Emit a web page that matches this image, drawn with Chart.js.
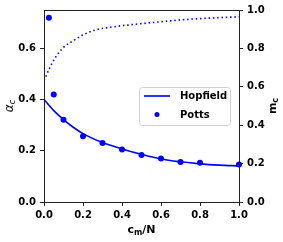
<!DOCTYPE html>
<html>
<head>
<meta charset="utf-8">
<script src="https://cdn.jsdelivr.net/npm/chart.js@4"></script>
<style>
  html, body { margin: 0; padding: 0; background: #fff; }
  #wrap { width: 283px; height: 242px; }
</style>
</head>
<body>
<div id="wrap"><canvas id="chart" width="283" height="242"></canvas></div>
<script>
// Hopfield curve (alpha_c vs c_m/N)
const hopfieldX = [0, 0.05, 0.1, 0.15, 0.2, 0.3, 0.4, 0.5, 0.6, 0.7, 0.8, 0.9, 1.0];
const hopfieldY = [0.40, 0.357, 0.322, 0.292, 0.267, 0.232, 0.207, 0.186, 0.168, 0.157, 0.149, 0.144, 0.141];

// Potts points (alpha_c)
const pottsX = [0.025, 0.05, 0.1, 0.2, 0.3, 0.4, 0.5, 0.6, 0.7, 0.8, 1.0];
const pottsY = [0.72, 0.42, 0.321, 0.257, 0.230, 0.205, 0.184, 0.170, 0.156, 0.153, 0.146];

// m_c dotted curve (right axis)
const mcX = [0, 0.03, 0.06, 0.1, 0.15, 0.2, 0.26, 0.36, 0.5, 0.75, 1.0];
const mcY = [0.632, 0.70, 0.755, 0.805, 0.84, 0.87, 0.895, 0.913, 0.929, 0.952, 0.965];

const xTicks = [0, 0.2, 0.4, 0.6, 0.8, 1.0];

const BLUE = '#0000ff';
const tickFont = { family: 'DejaVu Sans', size: 10, weight: 'bold' };

function pairs(xs, ys) {
    return xs.map((x, i) => ({ x: x, y: ys[i] }));
}

// frame around the plot area (top spine included)
const framePlugin = {
    id: 'frame',
    afterDraw(chart) {
        const a = chart.chartArea, ctx = chart.ctx;
        ctx.save();
        ctx.strokeStyle = '#222';
        ctx.lineWidth = 1;
        ctx.strokeRect(Math.round(a.left) + 0.5, Math.round(a.top) + 0.5,
            Math.round(a.right - a.left), Math.round(a.bottom - a.top));
        ctx.restore();
    }
};

// draws text with a subscript part
function subText(ctx, parts, x, y) {
    let w = 0;
    parts.forEach(p => { ctx.font = p.font; w += ctx.measureText(p.t).width; });
    let cx = x - w / 2;
    parts.forEach(p => {
        ctx.font = p.font;
        ctx.fillText(p.t, cx, y + (p.dy || 0));
        cx += ctx.measureText(p.t).width;
    });
}

const titlesPlugin = {
    id: 'titles',
    afterDraw(chart) {
        const ctx = chart.ctx, a = chart.chartArea;
        ctx.save();
        ctx.fillStyle = '#000';
        ctx.textBaseline = 'alphabetic';
        // x title
        subText(ctx, [
            { t: 'c', font: 'bold 11px DejaVu Sans' },
            { t: 'm', font: 'bold 8px DejaVu Sans', dy: 2 },
            { t: '/N', font: 'bold 11px DejaVu Sans' }
        ], (a.left + a.right) / 2, 233);
        // left title
        ctx.save();
        ctx.translate(13, (a.top + a.bottom) / 2);
        ctx.rotate(-Math.PI / 2);
        subText(ctx, [
            { t: 'α', font: 'italic 12px DejaVu Sans' },
            { t: 'c', font: 'italic 8px DejaVu Sans', dy: 2 }
        ], 0, 0);
        ctx.restore();
        // right title
        ctx.save();
        ctx.translate(276, (a.top + a.bottom) / 2);
        ctx.rotate(-Math.PI / 2);
        subText(ctx, [
            { t: 'm', font: 'bold 11px DejaVu Sans' },
            { t: 'c', font: 'bold 8px DejaVu Sans', dy: 2 }
        ], 0, 0);
        ctx.restore();
        ctx.restore();
    }
};

// legend box inside the plot
const legendPlugin = {
    id: 'boxLegend',
    afterDraw(chart) {
        const ctx = chart.ctx;
        const x0 = 139, y0 = 87, w = 91, h = 38, r = 3;
        ctx.save();
        ctx.beginPath();
        ctx.roundRect(x0 + 0.5, y0 + 0.5, w, h, r);
        ctx.fillStyle = 'rgba(255,255,255,0.85)';
        ctx.fill();
        ctx.strokeStyle = '#d0d0d0';
        ctx.lineWidth = 1;
        ctx.stroke();
        const items = chart.data.datasets.filter(d => d.label);
        items.forEach((d, i) => {
            const yy = y0 + 9 + i * 18.5;
            if (d.showLine === false) {
                ctx.beginPath();
                ctx.arc(157, yy, 2.5, 0, Math.PI * 2);
                ctx.fillStyle = d.backgroundColor;
                ctx.fill();
            } else {
                ctx.beginPath();
                ctx.moveTo(144, yy);
                ctx.lineTo(170, yy);
                ctx.strokeStyle = d.borderColor;
                ctx.lineWidth = d.borderWidth;
                ctx.stroke();
            }
            ctx.fillStyle = '#000';
            ctx.font = 'bold 10px DejaVu Sans';
            ctx.textBaseline = 'middle';
            ctx.fillText(d.label, 180, yy + 0.5);
        });
        ctx.restore();
    }
};

const gridOpts = { drawOnChartArea: false, drawTicks: true, tickLength: 4, color: '#222' };
const borderOpts = { display: true, color: '#222', width: 1 };

new Chart(document.getElementById('chart'), {
    type: 'line',
    data: {
        datasets: [
            {
                data: pairs(mcX, mcY),
                yAxisID: 'y2',
                borderColor: BLUE,
                borderWidth: 1.6,
                borderDash: [1.5, 2.8],
                borderCapStyle: 'butt',
                pointRadius: 0,
                cubicInterpolationMode: 'monotone',
                fill: false
            },
            {
                label: 'Hopfield',
                data: pairs(hopfieldX, hopfieldY),
                yAxisID: 'y',
                borderColor: BLUE,
                borderWidth: 1.6,
                pointRadius: 0,
                cubicInterpolationMode: 'monotone',
                fill: false
            },
            {
                label: 'Potts',
                data: pairs(pottsX, pottsY),
                yAxisID: 'y',
                showLine: false,
                backgroundColor: BLUE,
                borderColor: BLUE,
                borderWidth: 0,
                pointRadius: 3,
                clip: false
            }
        ]
    },
    options: {
        responsive: false,
        animation: false,
        devicePixelRatio: 1,
        layout: { padding: { top: 9, left: 0, right: 0, bottom: 0 } },
        plugins: { legend: { display: false }, tooltip: { enabled: false } },
        scales: {
            x: {
                type: 'linear',
                min: 0, max: 1,
                afterFit(s) { s.height = 40; },
                afterBuildTicks(s) { s.ticks = xTicks.map(v => ({ value: v })); },
                grid: gridOpts,
                border: borderOpts,
                ticks: { font: tickFont, color: '#000', padding: 3, maxRotation: 0,
                         callback: v => v.toFixed(1) }
            },
            y: {
                position: 'left',
                min: 0, max: 0.75,
                afterFit(s) { s.width = 44; },
                grid: gridOpts,
                border: borderOpts,
                ticks: { font: tickFont, color: '#000', padding: 4, stepSize: 0.2,
                         includeBounds: false, callback: v => v.toFixed(1) }
            },
            y2: {
                position: 'right',
                min: 0, max: 1,
                afterFit(s) { s.width = 44; },
                grid: gridOpts,
                border: borderOpts,
                ticks: { font: tickFont, color: '#000', padding: 4, stepSize: 0.2,
                         callback: v => v.toFixed(1) }
            }
        }
    },
    plugins: [framePlugin, titlesPlugin, legendPlugin]
});
</script>
</body>
</html>
